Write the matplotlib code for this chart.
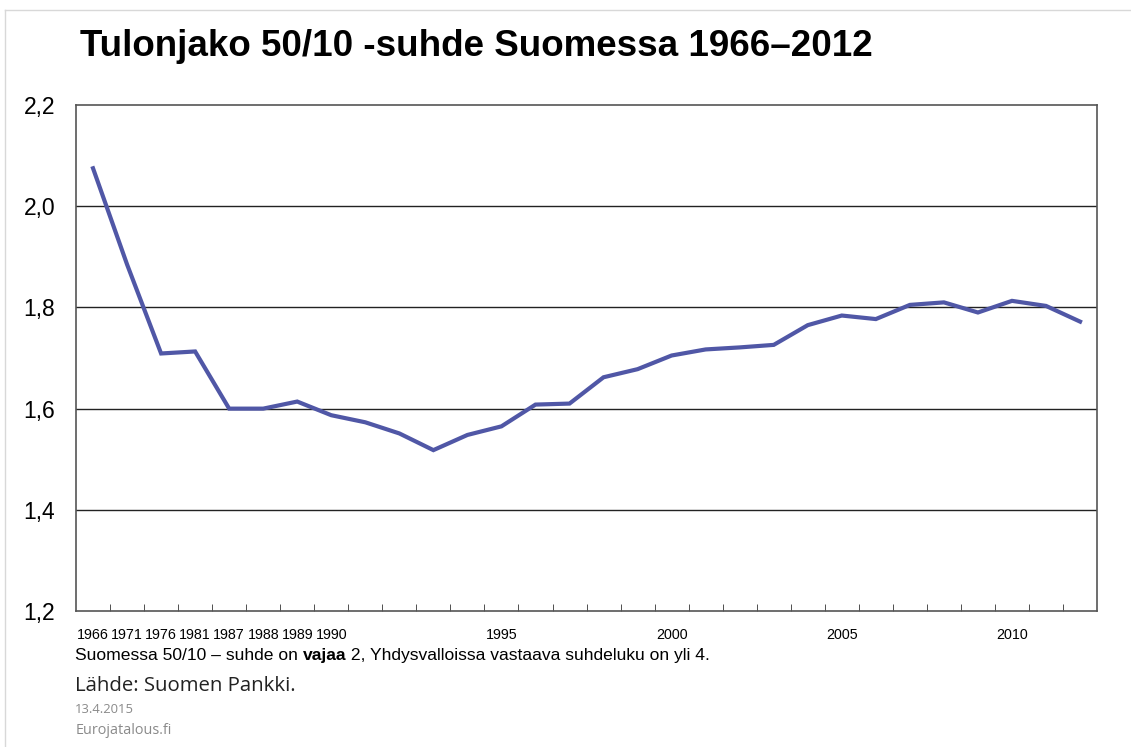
import matplotlib.pyplot as plt
from matplotlib.lines import Line2D
from matplotlib.ticker import FixedLocator, FuncFormatter

years = [1966, 1971, 1976, 1981, 1987, 1988, 1989, 1990,
         1991, 1992, 1993, 1994, 1995, 1996, 1997, 1998, 1999, 2000,
         2001, 2002, 2003, 2004, 2005, 2006, 2007, 2008, 2009, 2010,
         2011, 2012]
ratio = [2.075, 1.885, 1.709, 1.713, 1.600, 1.600, 1.614, 1.587,
         1.573, 1.551, 1.518, 1.548, 1.565, 1.608, 1.610, 1.662, 1.678, 1.705,
         1.717, 1.721, 1.726, 1.765, 1.784, 1.777, 1.805, 1.810, 1.790, 1.813,
         1.803, 1.772]
shown_labels = ["1966", "1971", "1976", "1981", "1987", "1988", "1989", "1990",
                "1995", "2000", "2005", "2010"]
y_ticks = [1.2, 1.4, 1.6, 1.8, 2.0, 2.2]

title = "Tulonjako 50/10 -suhde Suomessa 1966\u20132012"
note_a = "Suomessa 50/10 \u2013 suhde on "
note_b = "vajaa"
note_c = " 2, Yhdysvalloissa vastaava suhdeluku on yli 4."
source = "L\u00e4hde: Suomen Pankki."
date = "13.4.2015"
site = "Eurojatalous.fi"

plt.rcParams['font.family'] = ['Liberation Sans', 'DejaVu Sans']

fig = plt.figure(figsize=(11.31, 7.47), dpi=100)
ax = fig.add_axes([0.0672, 0.182, 0.9028, 0.6774])

x = list(range(len(years)))
ax.plot(x, ratio, color="#5057a6", lw=3.0, solid_joinstyle="miter")

ax.set_xlim(-0.5, len(years) - 0.5)
ax.set_ylim(1.2, 2.2)
ax.set_yticks(y_ticks)
ax.yaxis.set_major_formatter(FuncFormatter(lambda v, p: f"{v:.1f}".replace(".", ",")))
ax.tick_params(axis="y", length=0, labelsize=16.5, pad=15)

# labelled categories at centers, tick marks at category boundaries
label_pos = [i for i, yr in enumerate(years) if str(yr) in shown_labels]
ax.set_xticks(label_pos)
ax.set_xticklabels([str(years[i]) for i in label_pos])
ax.tick_params(axis="x", which="major", length=0, labelsize=10.3, pad=12)
ax.xaxis.set_minor_locator(FixedLocator([i + 0.5 for i in range(len(years) - 1)]))
ax.tick_params(axis="x", which="minor", length=5, direction="in", color="#333333")

for v in y_ticks[1:-1]:
    ax.axhline(v, color="#222222", lw=1.0, zorder=0)
for s in ax.spines.values():
    s.set_color("#555555")
    s.set_linewidth(1.2)

fig.text(0.071, 0.938, title, fontsize=26.5, fontweight="bold", va="center")

t1 = fig.text(0.0665, 0.117, note_a, fontsize=12.6, va="baseline")
t2 = ax.annotate(note_b, xy=(1, 0), xycoords=t1, fontsize=12.6,
                 fontweight="bold", va="bottom", ha="left")
ax.annotate(note_c, xy=(1, 0), xycoords=t2, fontsize=12.6, va="bottom", ha="left")

fig.text(0.0665, 0.075, source, fontsize=14.7, family=["Open Sans", "DejaVu Sans"],
         va="baseline", color="#222222")
fig.text(0.0665, 0.046, date, fontsize=9.4, family=["Open Sans", "DejaVu Sans"],
         va="baseline", color="#8a8a8a")
fig.text(0.0665, 0.017, site, fontsize=10.4, family=["Open Sans", "DejaVu Sans"],
         va="baseline", color="#8a8a8a")

# faint frame of the original slide
fig.add_artist(Line2D([0.004, 1.0], [0.986, 0.986], transform=fig.transFigure,
                      color="#d8d8d8", lw=1))
fig.add_artist(Line2D([0.004, 0.004], [0.0, 0.986], transform=fig.transFigure,
                      color="#d8d8d8", lw=1))

fig.savefig("out.png", dpi=100)
